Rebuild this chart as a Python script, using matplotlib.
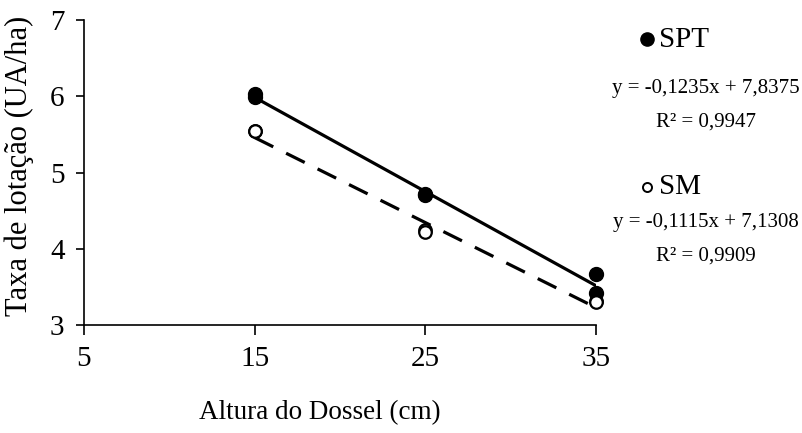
from matplotlib import pyplot as plt
from matplotlib.lines import Line2D

# dados
altura = [15, 15, 25, 25, 35, 35]
spt = [6.03, 5.99, 4.72, 4.70, 3.67, 3.42]
sm = [5.55, 5.54, 4.24, 4.22, 3.32, 3.30]

# coeficientes das retas (inclinação, intercepto)
coef_spt = [-0.1235, 7.8375]
coef_sm = [-0.1115, 7.1308]
eq_spt = ['y = -0,1235x + 7,8375', 'R² = 0,9947']
eq_sm = ['y = -0,1115x + 7,1308', 'R² = 0,9909']
xticks = [5, 15, 25, 35]
yticks = [3, 4, 5, 6, 7]

plt.rcParams['font.family'] = ['Liberation Serif', 'DejaVu Serif']

fig = plt.figure(figsize=(8.03, 4.33), dpi=100)
ax = fig.add_axes([0.1046, 0.2494, 0.6376, 0.7044])

xr = [15, 35]
ax.plot(xr, [coef_spt[0] * x + coef_spt[1] for x in xr], color='black', lw=2.3, zorder=2)
ax.plot(xr, [coef_sm[0] * x + coef_sm[1] for x in xr], color='black', lw=2.3,
        dashes=(6.5, 4.5), zorder=2)
ax.plot(altura, spt, 'o', color='black', ms=10, zorder=3, clip_on=False)
ax.plot(altura, sm, 'o', mfc='white', mec='black', mew=1.6, ms=9, zorder=4, clip_on=False)

ax.set_xlim(5, 35)
ax.set_ylim(3, 7)
ax.set_xticks(xticks)
ax.set_yticks(yticks)
ax.spines['top'].set_visible(False)
ax.spines['right'].set_visible(False)
for s in ['left', 'bottom']:
    ax.spines[s].set_linewidth(1.2)
ax.tick_params(axis='x', direction='out', length=7, width=1.2, pad=8, labelsize=21)
ax.tick_params(axis='y', direction='out', length=6, width=1.2, pad=8, labelsize=21)

ax.set_xlabel('Altura do Dossel (cm)', fontsize=19.5, labelpad=20)
ax.xaxis.label.set_x(0.461)

# legenda com equações
W, H = 803, 433
def fx(px):
    return px / W
def fy(py):
    return 1 - py / H

fig.text(fx(19), fy(316), 'Taxa de lotação (UA/ha)', rotation=90, fontsize=22,
         ha='center', va='bottom')

fig.add_artist(Line2D([fx(647)], [fy(39)], marker='o', color='black', ms=9.5,
                      transform=fig.transFigure))
fig.text(fx(659), fy(40), 'SPT', fontsize=21, va='center', ha='left')
fig.text(fx(706), fy(88), eq_spt[0], fontsize=15, va='center', ha='center')
fig.text(fx(706), fy(122), eq_spt[1], fontsize=15, va='center', ha='center')

fig.add_artist(Line2D([fx(647)], [fy(187)], marker='o', mfc='white', mec='black',
                      mew=1.4, ms=6.5, transform=fig.transFigure))
fig.text(fx(659), fy(187), 'SM', fontsize=21, va='center', ha='left')
fig.text(fx(706), fy(222), eq_sm[0], fontsize=15, va='center', ha='center')
fig.text(fx(706), fy(256), eq_sm[1], fontsize=15, va='center', ha='center')

plt.savefig('out.png', dpi=100)
